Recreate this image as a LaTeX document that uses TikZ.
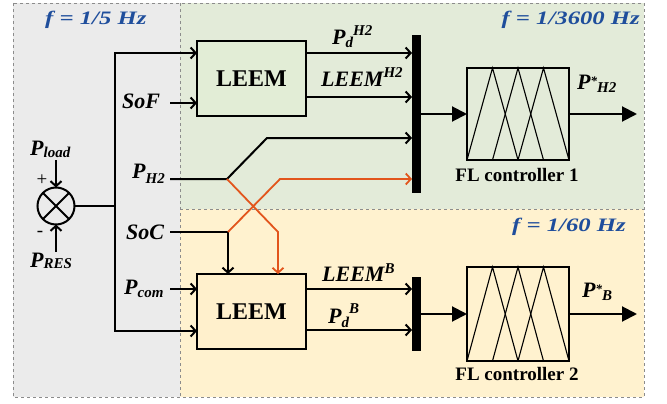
\documentclass[tikz,border=0pt]{standalone}
\usepackage{fontspec}
\setmainfont{Liberation Serif}
\usetikzlibrary{arrows.meta,calc}
\definecolor{graybg}{HTML}{EBEBEB}
\definecolor{greenbg}{HTML}{E3EBD9}
\definecolor{yellowbg}{HTML}{FFF2CF}
\definecolor{greenbox}{HTML}{E2EDD6}
\definecolor{yellowbox}{HTML}{FFF0CC}
\definecolor{fblue}{HTML}{1F4E9C}
\definecolor{orng}{HTML}{E2551C}
\definecolor{dashgray}{HTML}{8C8C8C}
\newcommand{\lbf}{\fontsize{22}{25}\selectfont\bfseries\itshape}
\newcommand{\dn}[2][3.5pt]{\raisebox{-#1}{\fontsize{15}{16}\selectfont #2}}
\newcommand{\up}[2][9.5pt]{\raisebox{#1}{\fontsize{15}{16}\selectfont #2}}
\newcommand{\starmark}{\raisebox{4pt}{\fontsize{13}{13}\selectfont *}}
\newcommand{\freq}[1]{\scalebox{1.3}[1]{\fontsize{19}{21}\selectfont\bfseries\itshape #1}}
\begin{document}
\begin{tikzpicture}[x=1pt,y=-1pt,
  lab/.style={inner sep=0pt, anchor=base west, font=\lbf},
  ftext/.style={inner sep=0pt, text=fblue},
  line/.style={line width=2pt},
  arr/.style={line width=2pt, -{Straight Barb[length=5pt,width=11pt]}},
  oarr/.style={line width=1.8pt, draw=orng, -{Straight Barb[length=5pt,width=11pt]}},
  farr/.style={line width=2pt, -{Triangle[length=15pt,width=15pt]}},
  leembox/.style={draw, line width=2pt, minimum width=109pt, minimum height=75pt, inner sep=0pt, outer sep=0pt, font=\fontsize{24}{26}\selectfont\bfseries},
  flbox/.style={draw, line width=1.8pt, minimum width=102pt, minimum height=92pt, inner sep=0pt, outer sep=0pt},
  barbox/.style={fill=black, minimum width=9pt, inner sep=0pt, outer sep=0pt},
  mf/.style={line width=1.1pt},
  region/.style={draw=dashgray, dashed, line width=0.8pt}
]
\useasboundingbox (0,0) rectangle (667,404);
% backgrounds
\fill[graybg] (13,3) rectangle (180,397);
\fill[greenbg] (180,3) rectangle (644,209);
\fill[yellowbg] (180,209) rectangle (644,397);
\draw[region] (13,3) rectangle (644,397);
\draw[region] (180,3) -- (180,397);
\draw[region] (180,209) -- (644,209);
% frequency labels
\node[ftext, anchor=base west] (f1) at (45,25) {\freq{f = 1/5 Hz}};
\node[ftext, anchor=base east] (f2) at (640,25) {\freq{f = 1/3600 Hz}};
\node[ftext, anchor=base east] (f3) at (626,231) {\freq{f = 1/60 Hz}};
% blocks
\node[leembox, fill=greenbox] (leem1) at (251.5,78.5) {LEEM};
\node[leembox, fill=yellowbox] (leem2) at (251.5,311.5) {LEEM};
\node[barbox, minimum height=158pt] (bar1) at (416.5,114) {};
\node[barbox, minimum height=74pt] (bar2) at (416.5,314) {};
\node[flbox] (fl1) at (518,114) {};
\node[flbox, minimum height=94pt] (fl2) at (518,314) {};
\node[circle, draw, line width=2pt, minimum size=37pt, inner sep=0pt, outer sep=0pt] (sum) at (56,206) {};
\draw[line width=2pt] (sum.north west) -- (sum.south east) (sum.north east) -- (sum.south west);
% membership functions
\foreach \n in {fl1,fl2}{
  \draw[mf] (\n.south west) -- ($(\n.north west)!0.25!(\n.north east)$) -- ($(\n.south west)!0.5!(\n.south east)$);
  \draw[mf] ($(\n.south west)!0.25!(\n.south east)$) -- ($(\n.north west)!0.5!(\n.north east)$) -- ($(\n.south west)!0.75!(\n.south east)$);
  \draw[mf] ($(\n.south west)!0.5!(\n.south east)$) -- ($(\n.north west)!0.75!(\n.north east)$) -- (\n.south east);
}
\node[inner sep=0pt, font=\fontsize{19}{21}\selectfont\bfseries] (cap1) at (517,175) {FL controller 1};
\node[inner sep=0pt, font=\fontsize{19}{21}\selectfont\bfseries] (cap2) at (517,373.5) {FL controller 2};
% labels
\node[lab] (lpd1) at (332,45) {P\dn[3pt]{d}\up{H2}};
\node[lab] (lleem1) at (321,86) {LEEM\up[9pt]{H2}};
\node[lab] (lps1) at (577,89) {P\starmark\dn{H2}};
\node[lab] (lsof) at (122,109) {SoF};
\node[lab] (lph2) at (132,178) {P\dn[5pt]{H2}};
\node[lab] (lpload) at (30,155) {P\dn[2pt]{load}};
\node[lab] (lpres) at (30,267) {P\dn[1.5pt]{RES}};
\node[inner sep=0pt, font=\fontsize{19}{20}\selectfont] (plus) at (42,180) {+};
\node[inner sep=0pt, font=\fontsize{19}{20}\selectfont] (minus) at (40,234) {-};
\node[lab] (lsoc) at (126,239) {SoC};
\node[lab] (lpcom) at (124,294) {P\dn[3pt]{com}};
\node[lab] (lleem2) at (322,281) {LEEM\up[8pt]{B}};
\node[lab] (lpd2) at (328,323) {P\dn[4pt]{d}\up[10pt]{B}};
\node[lab] (lps2) at (582,297) {P\starmark\dn{B}};
% sum inputs
\coordinate (plS) at (56,160);
\coordinate (prS) at (56,252);
\draw[arr] (plS) -- (sum.north);
\draw[arr] (prS) -- (sum.south);
% distribution
\coordinate (j0) at (115,206);
\coordinate (jt) at (115,53);
\coordinate (jb) at (115,331);
\draw[line] (sum.east) -- (j0);
\draw[arr] (j0) |- (leem1.west |- jt);
\draw[arr] (j0) |- (leem2.west |- jb);
% inputs
\coordinate (sofS) at (170,103);
\draw[arr] (sofS) -- (leem1.west |- sofS);
\coordinate (ph2S) at (170,179);
\coordinate (ph2J) at (227,179);
\coordinate (k1) at (267,138);
\draw[arr] (ph2S) -- (ph2J) -- (k1) -- (bar1.west |- k1);
\coordinate (socS) at (170,232);
\coordinate (socJ) at (228,232);
\draw[arr] (socS) -- (socJ) -- (leem2.north -| socJ);
\coordinate (k2) at (278,232);
\coordinate (k3) at (280,179);
\draw[oarr] (ph2J) -- (k2) -- (leem2.north -| k2);
\draw[oarr] (socJ) -- (k3) -- (bar1.west |- k3);
\coordinate (pcomS) at (170,289);
\draw[arr] (pcomS) -- (leem2.west |- pcomS);
% outputs of LEEM
\coordinate (o1a) at (0,53);
\coordinate (o1b) at (0,97);
\coordinate (o2a) at (0,289);
\coordinate (o2b) at (0,330);
\draw[arr] (leem1.east |- o1a) -- (bar1.west |- o1a);
\draw[arr] (leem1.east |- o1b) -- (bar1.west |- o1b);
\draw[arr] (leem2.east |- o2a) -- (bar2.west |- o2a);
\draw[arr] (leem2.east |- o2b) -- (bar2.west |- o2b);
% bar to FL
\draw[farr] (bar1.east |- fl1.west) -- (fl1.west);
\draw[farr] (bar2.east |- fl2.west) -- (fl2.west);
\coordinate (out1) at (637,114);
\coordinate (out2) at (637,314);
\draw[farr] (fl1.east) -- (out1);
\draw[farr] (fl2.east) -- (out2);
\end{tikzpicture}
\end{document}
